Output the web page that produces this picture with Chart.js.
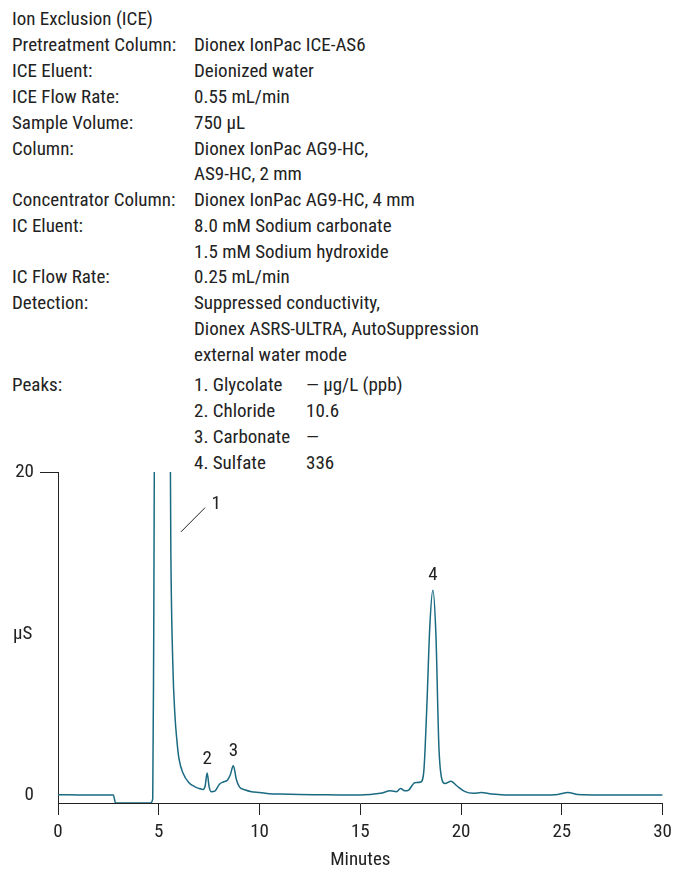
<!DOCTYPE html>
<html><head><meta charset="utf-8">
<script src="https://cdn.jsdelivr.net/npm/chart.js@4"></script>
<style>
body{margin:0;width:678px;height:876px;position:relative;background:#fff;font-family:"Liberation Sans Narrow","Roboto Condensed",Roboto,sans-serif;color:#222;}
.t{position:absolute;font-size:19px;line-height:19px;white-space:nowrap}
canvas{position:absolute;left:0;top:0}
</style></head><body>
<div id="info"></div>
<canvas id="c" width="678" height="876"></canvas>
<script>
const infoLabels=["Ion Exclusion (ICE)","Pretreatment Column:","ICE Eluent:","ICE Flow Rate:","Sample Volume:","Column:","","Concentrator Column:","IC Eluent:","","IC Flow Rate:","Detection:","","","Peaks:","","",""];
const infoValues=["","Dionex IonPac ICE-AS6","Deionized water","0.55 mL/min","750 µL","Dionex IonPac AG9-HC,","AS9-HC, 2 mm","Dionex IonPac AG9-HC, 4 mm","8.0 mM Sodium carbonate","1.5 mM Sodium hydroxide","0.25 mL/min","Suppressed conductivity,","Dionex ASRS-ULTRA, AutoSuppression","external water mode","1. Glycolate","2. Chloride","3. Carbonate","4. Sulfate"];
const peakAmounts=["— µg/L (ppb)","10.6","—","336"];
const lineTops=[9,35,61,87,113,139,164,190,216,242,267,293,319,345,375,401,427,453];

const times=[0,1,2,2.75,2.8,2.85,4.6,4.7,4.75,4.8,5.55,5.6,5.7,5.8,5.9,6.0,6.2,6.5,6.8,7.0,7.2,7.3,7.4,7.5,7.6,7.8,8.0,8.2,8.4,8.55,8.7,8.85,9.0,9.3,9.6,10,10.5,11,12,13,14,15,15.5,16,16.5,16.8,17,17.2,17.4,17.7,18.0,18.15,18.3,18.45,18.6,18.75,18.9,19.05,19.2,19.5,19.8,20.2,20.6,21,21.5,22,23,24,24.8,25.3,25.8,27,28,29,30];
const signal=[0.06,0.05,0.04,0.04,-0.2,-0.45,-0.45,-0.2,10,25,25,15,8,5,3.4,2.3,1.4,0.8,0.55,0.45,0.38,0.6,1.4,0.55,0.25,0.3,0.7,0.85,0.95,1.3,1.85,1.0,0.55,0.35,0.25,0.2,0.12,0.1,0.07,0.06,0.05,0.05,0.08,0.15,0.3,0.25,0.45,0.3,0.35,0.8,0.85,1.5,5.5,10.5,12.7,10,3,1.0,0.75,0.9,0.6,0.25,0.15,0.2,0.1,0.06,0.04,0.04,0.08,0.2,0.08,0.05,0.05,0.05,0.05];
const peakLabels=[{n:"2",x:7.4,y:1.6},{n:"3",x:8.7,y:2.1},{n:"4",x:18.6,y:13.0}];

const info=document.getElementById('info');
lineTops.forEach((t,i)=>{
  if(infoLabels[i]){const d=document.createElement('div');d.className='t';d.style.left='12px';d.style.top=t+'px';d.textContent=infoLabels[i];info.appendChild(d);}
  if(infoValues[i]){const d=document.createElement('div');d.className='t';d.style.left='194px';d.style.top=t+'px';d.textContent=infoValues[i];info.appendChild(d);}
  if(i>=14){const d=document.createElement('div');d.className='t';d.style.left='306px';d.style.top=t+'px';d.textContent=peakAmounts[i-14];info.appendChild(d);}
});

const FONT='"Liberation Sans Narrow","Roboto Condensed",Roboto,sans-serif';
const labelsPlugin={id:'pl',afterDatasetsDraw(ch){
  const {ctx,scales:{x,y}}=ch;ctx.save();ctx.fillStyle='#222';ctx.font='19px '+FONT;ctx.textAlign='center';ctx.textBaseline='bottom';
  peakLabels.forEach(p=>ctx.fillText(p.n,x.getPixelForValue(p.x),y.getPixelForValue(p.y)-1));
  ctx.strokeStyle='#222';ctx.lineWidth=1;ctx.beginPath();ctx.moveTo(x.getPixelForValue(6.1),y.getPixelForValue(16.3));ctx.lineTo(x.getPixelForValue(7.3),y.getPixelForValue(17.8));ctx.stroke();
  ctx.fillText("1",x.getPixelForValue(7.85),y.getPixelForValue(17.4));
  ctx.textAlign='left';ctx.textBaseline='middle';ctx.fillText("µS",13,y.getPixelForValue(10));
  ctx.restore();
}};
new Chart(document.getElementById('c'),{type:'line',
 data:{datasets:[{data:times.map((t,i)=>({x:t,y:signal[i]})),borderColor:'#1a6a82',borderWidth:1.5,pointRadius:0,tension:0.35,cubicInterpolationMode:'monotone'}]},
 options:{responsive:false,animation:false,events:[],layout:{padding:{top:472,right:9,left:0,bottom:0}},
  plugins:{legend:{display:false},tooltip:{enabled:false}},
  scales:{
   x:{type:'linear',min:0,max:30,afterBuildTicks:s=>{s.ticks=[0,5,10,15,20,25,30].map(v=>({value:v}))},
      afterFit:s=>{s.height=73},
      grid:{drawOnChartArea:false,drawTicks:true,tickLength:12,color:'#222'},border:{color:'#222',width:1},
      ticks:{color:'#222',font:{family:FONT,size:19},padding:6,maxRotation:0},
      title:{display:true,text:'Minutes',color:'#222',font:{family:FONT,size:19},padding:{top:2}}},
   y:{min:-0.45,max:20,afterBuildTicks:s=>{s.ticks=[{value:0},{value:20}]},afterFit:s=>{s.width=58},
      grid:{drawOnChartArea:false,drawTicks:true,tickLength:18,color:c=>c.tick&&c.tick.value===20?'#222':'rgba(0,0,0,0)'},border:{color:'#222',width:1},
      ticks:{color:'#222',font:{family:FONT,size:19},padding:6}}
  }},plugins:[labelsPlugin]});
</script></body></html>
